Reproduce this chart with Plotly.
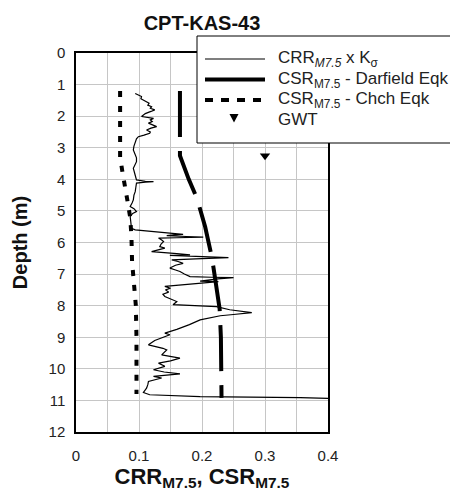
import plotly.graph_objects as go

# CRR(M7.5) x K-sigma profile from CPT-KAS-43
crr_depth = [1.28, 1.33, 1.38, 1.45, 1.49, 1.55, 1.59, 1.65, 1.70, 1.75, 1.80, 1.85, 1.92, 2.01,
             2.04, 2.07, 2.12, 2.17, 2.22, 2.28, 2.33, 2.38, 2.44, 2.50, 2.54, 2.60, 2.65, 2.72,
             2.81, 2.95, 3.07, 3.20, 3.32, 3.44, 3.55, 3.65, 3.80, 3.95, 4.02, 4.06, 4.07, 4.09,
             4.12, 4.25, 4.39, 4.50, 4.65, 4.75, 4.86, 4.93, 5.02, 5.08, 5.18, 5.35, 5.55, 5.60,
             5.66, 5.70, 5.74, 5.76, 5.78, 5.81, 5.83, 5.85, 5.86, 5.92, 5.97, 6.05, 6.13, 6.18,
             6.24, 6.29, 6.35, 6.39, 6.41, 6.45, 6.48, 6.52, 6.55, 6.60, 6.66, 6.72, 6.81, 6.87,
             6.92, 7.00, 7.08, 7.10, 7.11, 7.15, 7.22, 7.24, 7.28, 7.34, 7.39, 7.45, 7.50, 7.57,
             7.64, 7.71, 7.78, 7.82, 7.87, 7.97, 8.03, 8.13, 8.22, 8.28, 8.32, 8.45, 8.60, 8.75,
             8.87, 8.92, 9.00, 9.10, 9.24, 9.30, 9.35, 9.40, 9.48, 9.56, 9.66, 9.75, 9.82, 9.92,
             10.03, 10.10, 10.16, 10.20, 10.24, 10.29, 10.35, 10.40, 10.50, 10.61, 10.75, 10.82,
             10.88, 10.91, 10.95]
crr_value = [0.094, 0.100, 0.104, 0.103, 0.107, 0.112, 0.116, 0.114, 0.120, 0.118, 0.125, 0.119,
             0.110, 0.104, 0.115, 0.123, 0.118, 0.121, 0.115, 0.122, 0.128, 0.119, 0.112, 0.118,
             0.117, 0.108, 0.099, 0.096, 0.094, 0.092, 0.091, 0.093, 0.096, 0.096, 0.093, 0.091,
             0.093, 0.095, 0.096, 0.110, 0.123, 0.110, 0.096, 0.095, 0.094, 0.092, 0.091, 0.089,
             0.086, 0.092, 0.096, 0.090, 0.086, 0.087, 0.088, 0.094, 0.133, 0.150, 0.170, 0.155,
             0.144, 0.175, 0.202, 0.160, 0.131, 0.136, 0.139, 0.135, 0.133, 0.141, 0.128, 0.120,
             0.160, 0.181, 0.149, 0.200, 0.242, 0.190, 0.152, 0.162, 0.170, 0.158, 0.149, 0.158,
             0.165, 0.172, 0.181, 0.215, 0.250, 0.225, 0.197, 0.226, 0.200, 0.165, 0.141, 0.150,
             0.142, 0.147, 0.138, 0.141, 0.150, 0.152, 0.160, 0.154, 0.223, 0.244, 0.279, 0.250,
             0.229, 0.197, 0.180, 0.160, 0.141, 0.149, 0.138, 0.125, 0.115, 0.128, 0.138, 0.144,
             0.140, 0.136, 0.165, 0.150, 0.131, 0.141, 0.123, 0.140, 0.165, 0.140, 0.123, 0.136,
             0.125, 0.115, 0.114, 0.112, 0.107, 0.117, 0.197, 0.356, 0.420]

# CSR(M7.5) for the Darfield earthquake
darfield_depth = [1.2, 3.25, 4.0, 4.6, 5.5, 6.5, 7.3, 8.1, 9.0, 10.0, 10.92]
darfield_csr = [0.165, 0.165, 0.179, 0.192, 0.205, 0.216, 0.222, 0.228, 0.230, 0.231, 0.231]

# CSR(M7.5) for the Christchurch earthquake
chch_depth = [1.2, 3.3, 3.8, 4.2, 4.6, 5.2, 5.8, 6.6, 7.5, 8.0, 9.0, 10.8]
chch_csr = [0.070, 0.070, 0.074, 0.078, 0.081, 0.086, 0.088, 0.089, 0.092, 0.095, 0.096, 0.096]

# Ground water table
gwt_depth = [3.25]
gwt_x = [0.30]

x_ticks = [0, 0.1, 0.2, 0.3, 0.4]
x_ticklabels = ["0", "0.1", "0.2", "0.3", "0.4"]
y_ticks = list(range(0, 13))

legend_labels = ["CRR<sub><i>M7.5</i></sub> x K<sub>σ</sub>",
                 "CSR<sub>M7.5</sub> - Darfield Eqk",
                 "CSR<sub>M7.5</sub> - Chch Eqk",
                 "GWT"]

FONT = "Liberation Sans, Arial, sans-serif"
W, H = 450, 493
ML, MR, MT, MB = 76, 122, 53, 61
PW, PH = W - ML - MR, H - MT - MB


def px_x(px):
    """Pixel column -> paper x."""
    return (px - ML) / PW


def px_y(py):
    """Pixel row (from top) -> paper y."""
    return (H - MB - py) / PH


crr_line = dict(color="black", width=1.2)
darfield_line = dict(color="black", width=4, dash="46px,14px")
chch_line = dict(color="black", width=4, dash="6px,9px")

fig = go.Figure()
fig.add_trace(go.Scatter(x=crr_value, y=crr_depth, mode="lines",
                         name=legend_labels[0], line=crr_line))
fig.add_trace(go.Scatter(x=darfield_csr, y=darfield_depth, mode="lines",
                         name=legend_labels[1], line=darfield_line))
fig.add_trace(go.Scatter(x=chch_csr, y=chch_depth, mode="lines",
                         name=legend_labels[2], line=chch_line))
fig.add_trace(go.Scatter(x=gwt_x, y=gwt_depth, mode="markers", name=legend_labels[3],
                         marker=dict(symbol="triangle-down", size=9, color="black")))

# Legend box (drawn by hand so the rows sit tightly, as in the original figure)
shapes = [dict(type="rect", xref="paper", yref="paper", layer="above",
               x0=px_x(197), x1=px_x(480), y0=px_y(143), y1=px_y(36),
               fillcolor="white", line=dict(color="black", width=1))]
rows = [59, 79.5, 100, 119]
sample_x0, sample_x1 = px_x(205), px_x(265)
shapes.append(dict(type="line", xref="paper", yref="paper", layer="above",
                   x0=sample_x0, x1=sample_x1, y0=px_y(rows[0]), y1=px_y(rows[0]),
                   line=dict(color="black", width=1.2)))
shapes.append(dict(type="line", xref="paper", yref="paper", layer="above",
                   x0=sample_x0, x1=sample_x1, y0=px_y(rows[1]), y1=px_y(rows[1]),
                   line=dict(color="black", width=4)))
shapes.append(dict(type="line", xref="paper", yref="paper", layer="above",
                   x0=sample_x0, x1=sample_x1, y0=px_y(rows[2]), y1=px_y(rows[2]),
                   line=dict(color="black", width=4, dash="8px,8px")))
tri_cx, tri_cy = 234, rows[3] - 1
shapes.append(dict(type="path", xref="paper", yref="paper", layer="above",
                   path=(f"M{px_x(tri_cx - 4.5)},{px_y(tri_cy - 4)} "
                         f"L{px_x(tri_cx + 4.5)},{px_y(tri_cy - 4)} "
                         f"L{px_x(tri_cx)},{px_y(tri_cy + 4.5)} Z"),
                   fillcolor="black", line=dict(color="black", width=0)))

annotations = [dict(text=lab, xref="paper", yref="paper", x=px_x(276), y=px_y(r),
                    xanchor="left", yanchor="middle", showarrow=False,
                    font=dict(size=17, color="#222222", family=FONT))
               for lab, r in zip(legend_labels, rows)]

grid = "#c6c6c6"
fig.update_layout(
    width=W, height=H,
    margin=dict(l=ML, r=MR, t=MT, b=MB, autoexpand=False),
    paper_bgcolor="white", plot_bgcolor="white",
    font=dict(family=FONT, color="#222222", size=15),
    title=dict(text="<b>CPT-KAS-43</b>", x=0.5, xref="paper", xanchor="center",
               y=1 - 23 / H, yanchor="middle",
               font=dict(size=20, color="#111111", family=FONT)),
    showlegend=False,
    shapes=shapes,
    annotations=annotations,
    xaxis=dict(range=[0, 0.4], tickvals=x_ticks, ticktext=x_ticklabels,
               showgrid=True, gridcolor=grid, gridwidth=1,
               minor=dict(dtick=0.05, showgrid=True, gridcolor=grid, gridwidth=1),
               showline=True, linecolor="black", linewidth=1.5, mirror=True,
               zeroline=False, ticks="", ticklabelstandoff=9,
               title=dict(text="<b>CRR<sub>M7.5</sub>, CSR<sub>M7.5</sub></b>",
                          font=dict(size=22, color="#111111"), standoff=2)),
    yaxis=dict(range=[12, 0], tickvals=y_ticks,
               showgrid=True, gridcolor=grid, gridwidth=1,
               showline=True, linecolor="black", linewidth=1.5, mirror=True,
               zeroline=False, ticks="", ticklabelstandoff=6,
               title=dict(text="<b>Depth (m)</b>", font=dict(size=20, color="#111111"),
                          standoff=16)),
)

fig.write_html("out.html")
